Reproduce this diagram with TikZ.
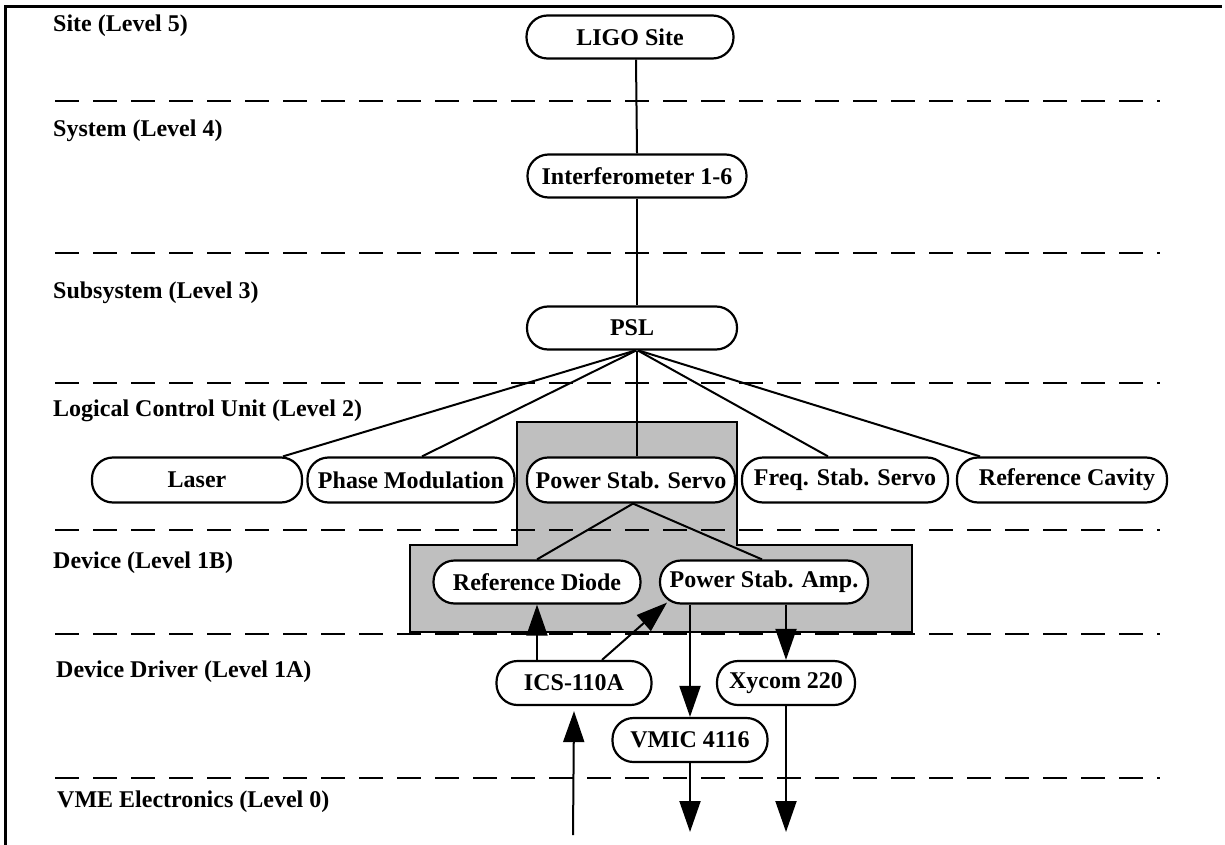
\documentclass[tikz,border=0pt]{standalone}
\usepackage{fontspec}
\setmainfont{Liberation Serif}
\usetikzlibrary{arrows.meta,calc}
\begin{document}
\begin{tikzpicture}[x=1pt,y=-1pt,
  box/.style={draw, line width=2.2pt, fill=white, rounded corners=21pt, minimum height=43pt, inner sep=0pt, font=\fontsize{24}{28}\selectfont\bfseries},
  lvl/.style={anchor=west, inner sep=0pt, font=\fontsize{24}{28}\selectfont\bfseries},
  sep/.style={line width=2.6pt, dash pattern=on 24pt off 14pt},
  conn/.style={line width=2pt},
  arr/.style={line width=2pt, -{Triangle[length=31pt,width=21pt]}},
  region/.style={draw, line width=2pt, fill=black!25}]
\useasboundingbox (0,0) rectangle (1225,845);
% frame
\draw[line width=3pt] (5,845) -- (5,7) -- (1222,7);
% shaded region
\draw[region] (517,422) -- (737,422) -- (737,545) -- (912,545) -- (912,632) -- (410,632) -- (410,545) -- (517,545) -- cycle;
% level separators
\foreach \yy in {101,253,383,530,634,778} \draw[sep] (55,\yy) -- (1160,\yy);
% level labels
\node[lvl] (l5) at (53,26) {Site (Level 5)};
\node[lvl] (l4) at (53,131) {System (Level 4)};
\node[lvl] (l3) at (53,293) {Subsystem (Level 3)};
\node[lvl] (l2) at (53,411) {Logical Control Unit (Level 2)};
\node[lvl] (l1b) at (53,563) {Device (Level 1B)};
\node[lvl] (l1a) at (56,672) {Device Driver (Level 1A)};
\node[lvl] (l0) at (57,802) {VME Electronics (Level 0)};
% nodes
\node[box, minimum width=207pt] (ligo) at (630,37) {LIGO Site};
\node[box, minimum width=219pt] (ifo) at (637,176) {Interferometer 1-6};
\node[box, minimum width=210pt] (psl) at (632,328) {PSL};
\node[box, minimum width=210pt, minimum height=45pt] (laser) at (197,480) {Laser};
\node[box, minimum width=207pt, minimum height=45pt] (phase) at (411,480) {Phase Modulation};
\node[box, minimum width=208pt, minimum height=45pt] (pss) at (631,480) {Power Stab. Servo};
\node[box, minimum width=206pt, minimum height=45pt] (freq) at (845,480) {Freq. Stab. Servo};
\node[box, minimum width=210pt, minimum height=45pt] (refcav) at (1062,480) {\hspace*{10pt}Reference Cavity};
\node[box, minimum width=207pt] (refdiode) at (537,582) {Reference Diode};
\node[box, minimum width=208pt] (psa) at (764,582) {Power Stab. Amp.};
\node[box, minimum width=155pt, minimum height=44pt] (ics) at (574,683) {ICS-110A};
\node[box, minimum width=138pt, minimum height=44pt] (xycom) at (786,683) {Xycom 220};
\node[box, minimum width=155pt, minimum height=44pt] (vmic) at (690,740) {VMIC 4116};
% free ends
\coordinate (vin) at (573,835);
\coordinate (vout) at (690,832);
\coordinate (xout) at (786,832);
% connectors
\draw[conn] ([xshift=6pt]ligo.south) -- (ifo.north);
\draw[conn] (ifo.south) -- ([xshift=5pt]psl.north);
\draw[conn] ([xshift=5pt]psl.south) -- ([xshift=6pt]pss.north);
\draw[conn] ([xshift=3pt]psl.south) -- ([xshift=86pt]laser.north);
\draw[conn] ([xshift=4pt]psl.south) -- ([xshift=11pt]phase.north);
\draw[conn] ([xshift=6pt]psl.south) -- ([xshift=-17pt]freq.north);
\draw[conn] ([xshift=7pt]psl.south) -- ([xshift=-82pt]refcav.north);
\draw[conn] ([xshift=2pt]pss.south) -- (refdiode.north);
\draw[conn] ([xshift=2pt]pss.south) -- ([xshift=-2pt]psa.north);
% arrows
\draw[arr] (ics.north -| refdiode.south) -- (refdiode.south);
\draw[arr] ([xshift=28pt]ics.north) -- ([xshift=-97pt,yshift=2pt]psa.south);
\draw[arr] (psa.south -| vmic.north) -- (vmic.north);
\draw[arr] (psa.south -| xycom.north) -- (xycom.north);
\draw[arr] (vin) -- ([yshift=-5pt]ics.south);
\draw[arr] (vmic.south) -- (vout);
\draw[arr] (xycom.south) -- (xout);
\end{tikzpicture}
\end{document}
